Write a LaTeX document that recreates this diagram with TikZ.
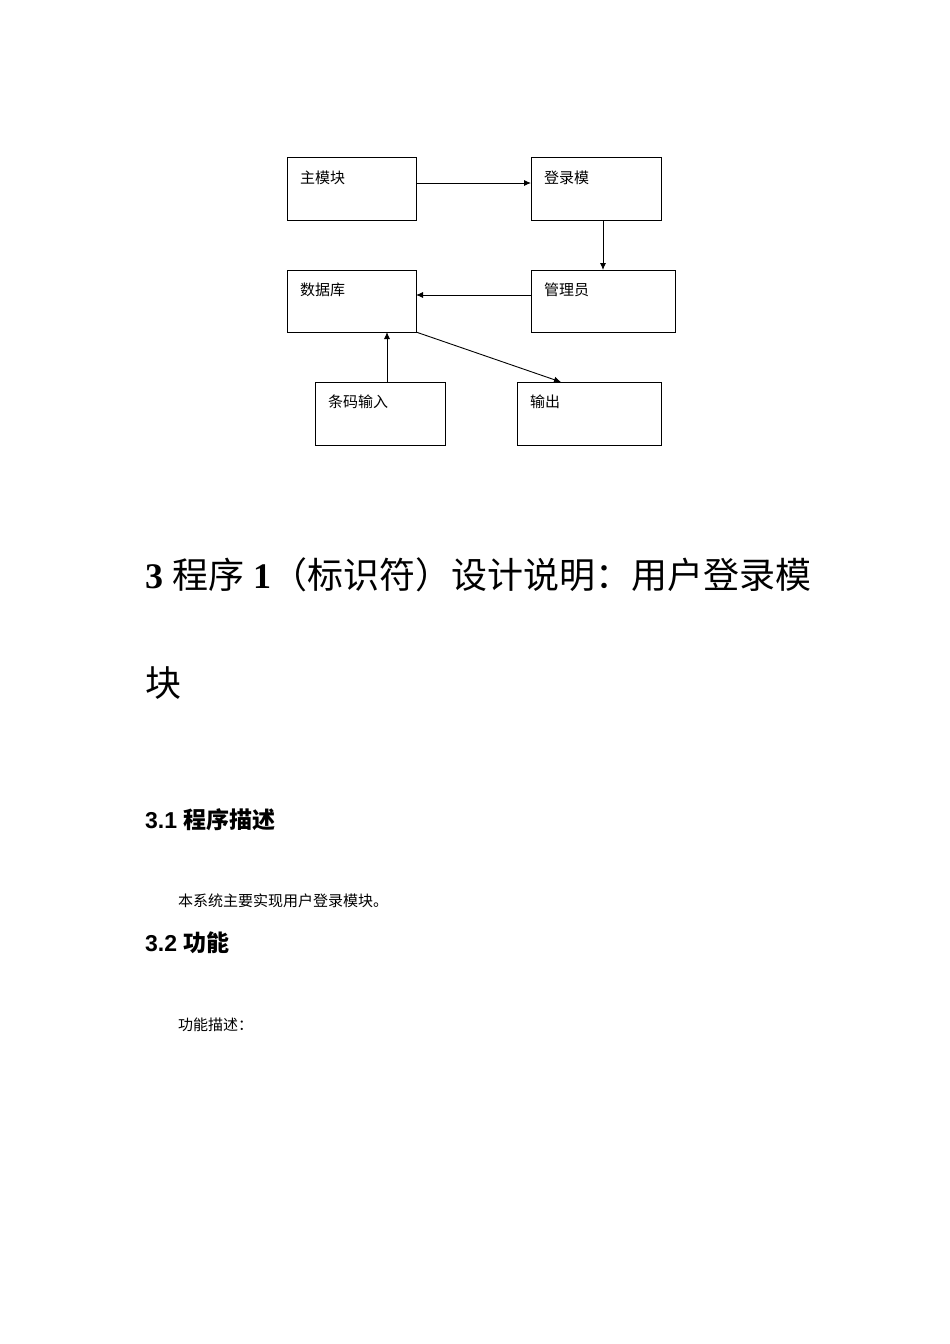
\documentclass[tikz,border=0pt]{standalone}
\usepackage{fontspec}
\setmainfont{Liberation Serif}
\setsansfont{Liberation Sans}
\newfontfamily\cjk{Noto Sans CJK SC}
\usetikzlibrary{arrows.meta}
\begin{document}
\begin{tikzpicture}[x=1pt,y=-1pt,
  box/.style={draw,line width=0.9pt},
  lbl/.style={anchor=west,font=\cjk\fontsize{15}{15}\selectfont,inner sep=0pt},
  arr/.style={-{Latex[length=7pt,width=6pt]},line width=0.9pt}]
\useasboundingbox[fill=white] (0,0) rectangle (950,1344);
\draw[box] (287,157) rectangle (416,220) coordinate (a2);
\coordinate (a) at (287,157);
\draw[box] (531,157) rectangle (661,220);
\draw[box] (287,270) rectangle (416,332);
\draw[box] (531,270) rectangle (675,332);
\draw[box] (315,382) rectangle (445,445);
\draw[box] (517,382) rectangle (661,445);
\node[lbl] (t1) at (300,178) {主模块};
\node[lbl] (t2) at (544,178) {登录模};
\node[lbl] (t3) at (300,290) {数据库};
\node[lbl] (t4) at (544,290) {管理员};
\node[lbl] (t5) at (328,402) {条码输入};
\node[lbl] (t6) at (530,402) {输出};
\coordinate (p1) at (416,183); \coordinate (p2) at (531,183);
\coordinate (p3) at (603,220); \coordinate (p4) at (603,270);
\coordinate (p5) at (531,295); \coordinate (p6) at (416,295);
\coordinate (p7) at (387,382); \coordinate (p8) at (387,332);
\coordinate (p9) at (416,332); \coordinate (p10) at (561,382);
\draw[arr] (p1) -- (p2);
\draw[arr] (p3) -- (p4);
\draw[arr] (p5) -- (p6);
\draw[arr] (p7) -- (p8);
\draw[arr] (p9) -- (p10);
\node[anchor=west,inner sep=0pt,font=\fontsize{36}{36}\selectfont] (h) at (145,575) {\textbf{3} {\cjk 程序} \textbf{1}{\cjk （标识符）设计说明：用户登录模}};
\node[anchor=west,inner sep=0pt,font=\cjk\fontsize{36}{36}\selectfont] (h2) at (145,683) {块};
\node[anchor=west,inner sep=0pt,font=\sffamily\bfseries\fontsize{23}{23}\selectfont] (s1) at (145,820) {3.1 {\cjk 程序描述}};
\node[anchor=west,inner sep=0pt,font=\cjk\fontsize{15}{15}\selectfont] (b1) at (178,901) {本系统主要实现用户登录模块。};
\node[anchor=west,inner sep=0pt,font=\sffamily\bfseries\fontsize{23}{23}\selectfont] (s2) at (145,943) {3.2 {\cjk 功能}};
\node[anchor=west,inner sep=0pt,font=\cjk\fontsize{15}{15}\selectfont] (b2) at (178,1025) {功能描述：};
\end{tikzpicture}
\end{document}
